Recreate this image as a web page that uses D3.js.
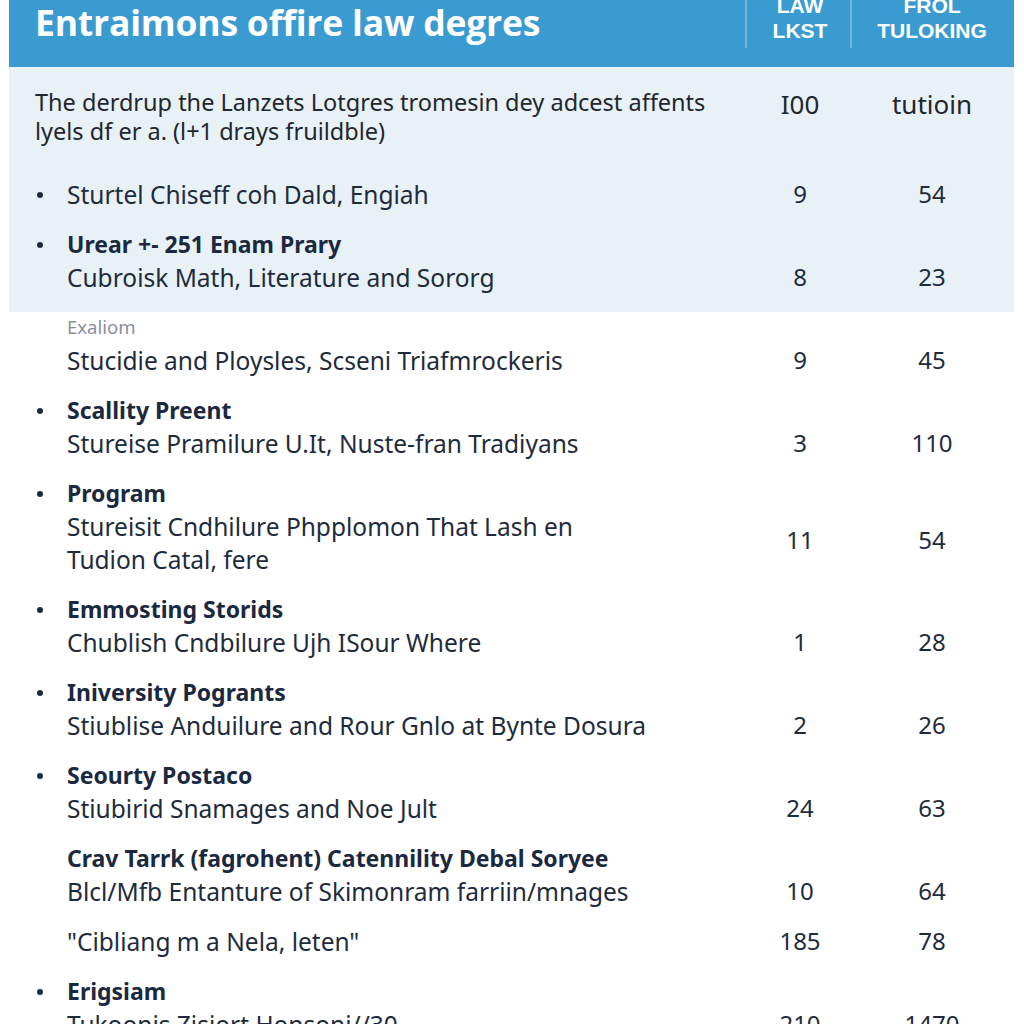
<!DOCTYPE html>
<html>
<head>
<meta charset="utf-8">
<script src="https://cdn.jsdelivr.net/npm/d3@7"></script>
<style>
  html, body { margin: 0; padding: 0; background: #ffffff; }
  svg { display: block; }
</style>
</head>
<body>
<div id="chart"></div>
<script>
// ---- data ----
const titleText = "Entraimons offire law degres";
const colHeaders = [["LAW", "LKST"], ["FROL", "TULOKING"]];
const introLines = ["The derdrup the Lanzets Lotgres tromesin dey adcest affents",
                    "lyels df er a. (l+1 drays fruildble)"];
const introValues = ["I00", "tutioin"];

const headings = [null, "Urear +- 251 Enam Prary", "Exaliom", "Scallity Preent", "Program",
  "Emmosting Storids", "Iniversity Pogrants", "Seourty Postaco",
  "Crav Tarrk (fagrohent) Catennility Debal Soryee", null, "Erigsiam"];
const headingKind = ["", "bold", "note", "bold", "bold", "bold", "bold", "bold", "bold", "", "bold"];
const bullets = [true, true, false, true, true, true, true, true, false, false, true];
const descriptions = [
  ["Sturtel Chiseff coh Dald, Engiah"],
  ["Cubroisk Math, Literature and Sororg"],
  ["Stucidie and Ploysles, Scseni Triafmrockeris"],
  ["Stureise Pramilure U.It, Nuste-fran Tradiyans"],
  ["Stureisit Cndhilure Phpplomon That Lash en", "Tudion Catal, fere"],
  ["Chublish Cndbilure Ujh ISour Where"],
  ["Stiublise Anduilure and Rour Gnlo at Bynte Dosura"],
  ["Stiubirid Snamages and Noe Jult"],
  ["Blcl/Mfb Entanture of Skimonram farriin/mnages"],
  ["\"Cibliang m a Nela, leten\""],
  ["Tukoonis Zisiort Honsoni//30"]
];
const lawValues = [9, 8, 9, 3, 11, 1, 2, 24, 10, 185, 210];
const tuitionValues = [54, 23, 45, 110, 54, 28, 26, 63, 64, 78, 1470];
const columns = ["law", "tuition"];

// ---- layout ----
const W = 1024, H = 1024;
const FONT = "'Noto Sans', 'Open Sans', sans-serif";
const navy = "#1e2b3c";

const svg = d3.select("#chart").append("svg").attr("width", W).attr("height", H);

const colX = d3.scaleOrdinal().domain(columns).range([800, 932]);

// header band + light panel
svg.append("rect").attr("x", 9).attr("y", 0).attr("width", 1005).attr("height", 67).attr("fill", "#3a9bd0");
svg.append("rect").attr("x", 9).attr("y", 67).attr("width", 1005).attr("height", 245).attr("fill", "#e8f1f6");

svg.append("text")
  .attr("x", 35).attr("y", 36)
  .style("font-family", "'Open Sans', sans-serif")
  .style("font-weight", 700).style("font-size", "35.5px")
  .style("letter-spacing", "-0.2px")
  .attr("fill", "#ffffff")
  .text(titleText);

// column separators
[746, 851].forEach(x => {
  svg.append("line").attr("x1", x).attr("x2", x).attr("y1", 0).attr("y2", 48)
    .attr("stroke", "#a9d2ec").attr("stroke-width", 1);
});

columns.forEach((c, i) => {
  colHeaders[i].forEach((t, j) => {
    svg.append("text")
      .attr("x", colX(c)).attr("y", 13 + j * 25)
      .attr("text-anchor", "middle")
      .style("font-family", "'Liberation Sans', Arial, sans-serif")
      .style("font-weight", 700).style("font-size", "21px")
      .attr("fill", "#ffffff")
      .text(t);
  });
});

// intro block
introLines.forEach((t, i) => {
  svg.append("text")
    .attr("x", 35).attr("y", 103 + i * 29).attr("dy", "0.35em")
    .style("font-family", FONT).style("font-size", "23.5px")
    .attr("fill", "#22262e")
    .text(t);
});
columns.forEach((c, i) => {
  svg.append("text")
    .attr("x", colX(c)).attr("y", 105).attr("dy", "0.35em")
    .attr("text-anchor", "middle")
    .style("font-family", FONT).style("font-size", "26px")
    .attr("fill", "#22262e")
    .text(introValues[i]);
});

// rows
const lineGap = 33, rowGap = 50;
let cursor = 195;
const g = svg.append("g");

descriptions.forEach((desc, i) => {
  let first = cursor;
  if (headings[i]) {
    const note = headingKind[i] === "note";
    g.append("text")
      .attr("x", 67).attr("y", cursor).attr("dy", "0.35em")
      .style("font-family", FONT)
      .style("font-weight", note ? 400 : 700)
      .style("font-size", note ? "18.5px" : "23px")
      .attr("fill", note ? "#8a8f9c" : "#1b2940")
      .text(headings[i]);
    cursor += lineGap;
  }
  const descStart = cursor;
  desc.forEach((t, j) => {
    g.append("text")
      .attr("x", 67).attr("y", cursor).attr("dy", "0.35em")
      .style("font-family", FONT).style("font-size", "24.5px")
      .attr("fill", navy)
      .text(t);
    if (j < desc.length - 1) cursor += lineGap;
  });
  const valueY = (descStart + cursor) / 2 - (desc.length > 1 ? 3 : 0);
  if (bullets[i]) {
    g.append("circle").attr("cx", 40).attr("cy", first).attr("r", 3).attr("fill", navy);
  }
  [lawValues[i], tuitionValues[i]].forEach((v, k) => {
    g.append("text")
      .attr("x", colX(columns[k])).attr("y", valueY).attr("dy", "0.35em")
      .attr("text-anchor", "middle")
      .style("font-family", FONT).style("font-size", "24px")
      .attr("fill", navy)
      .text(v);
  });
  cursor += rowGap;
});
</script>
</body>
</html>
